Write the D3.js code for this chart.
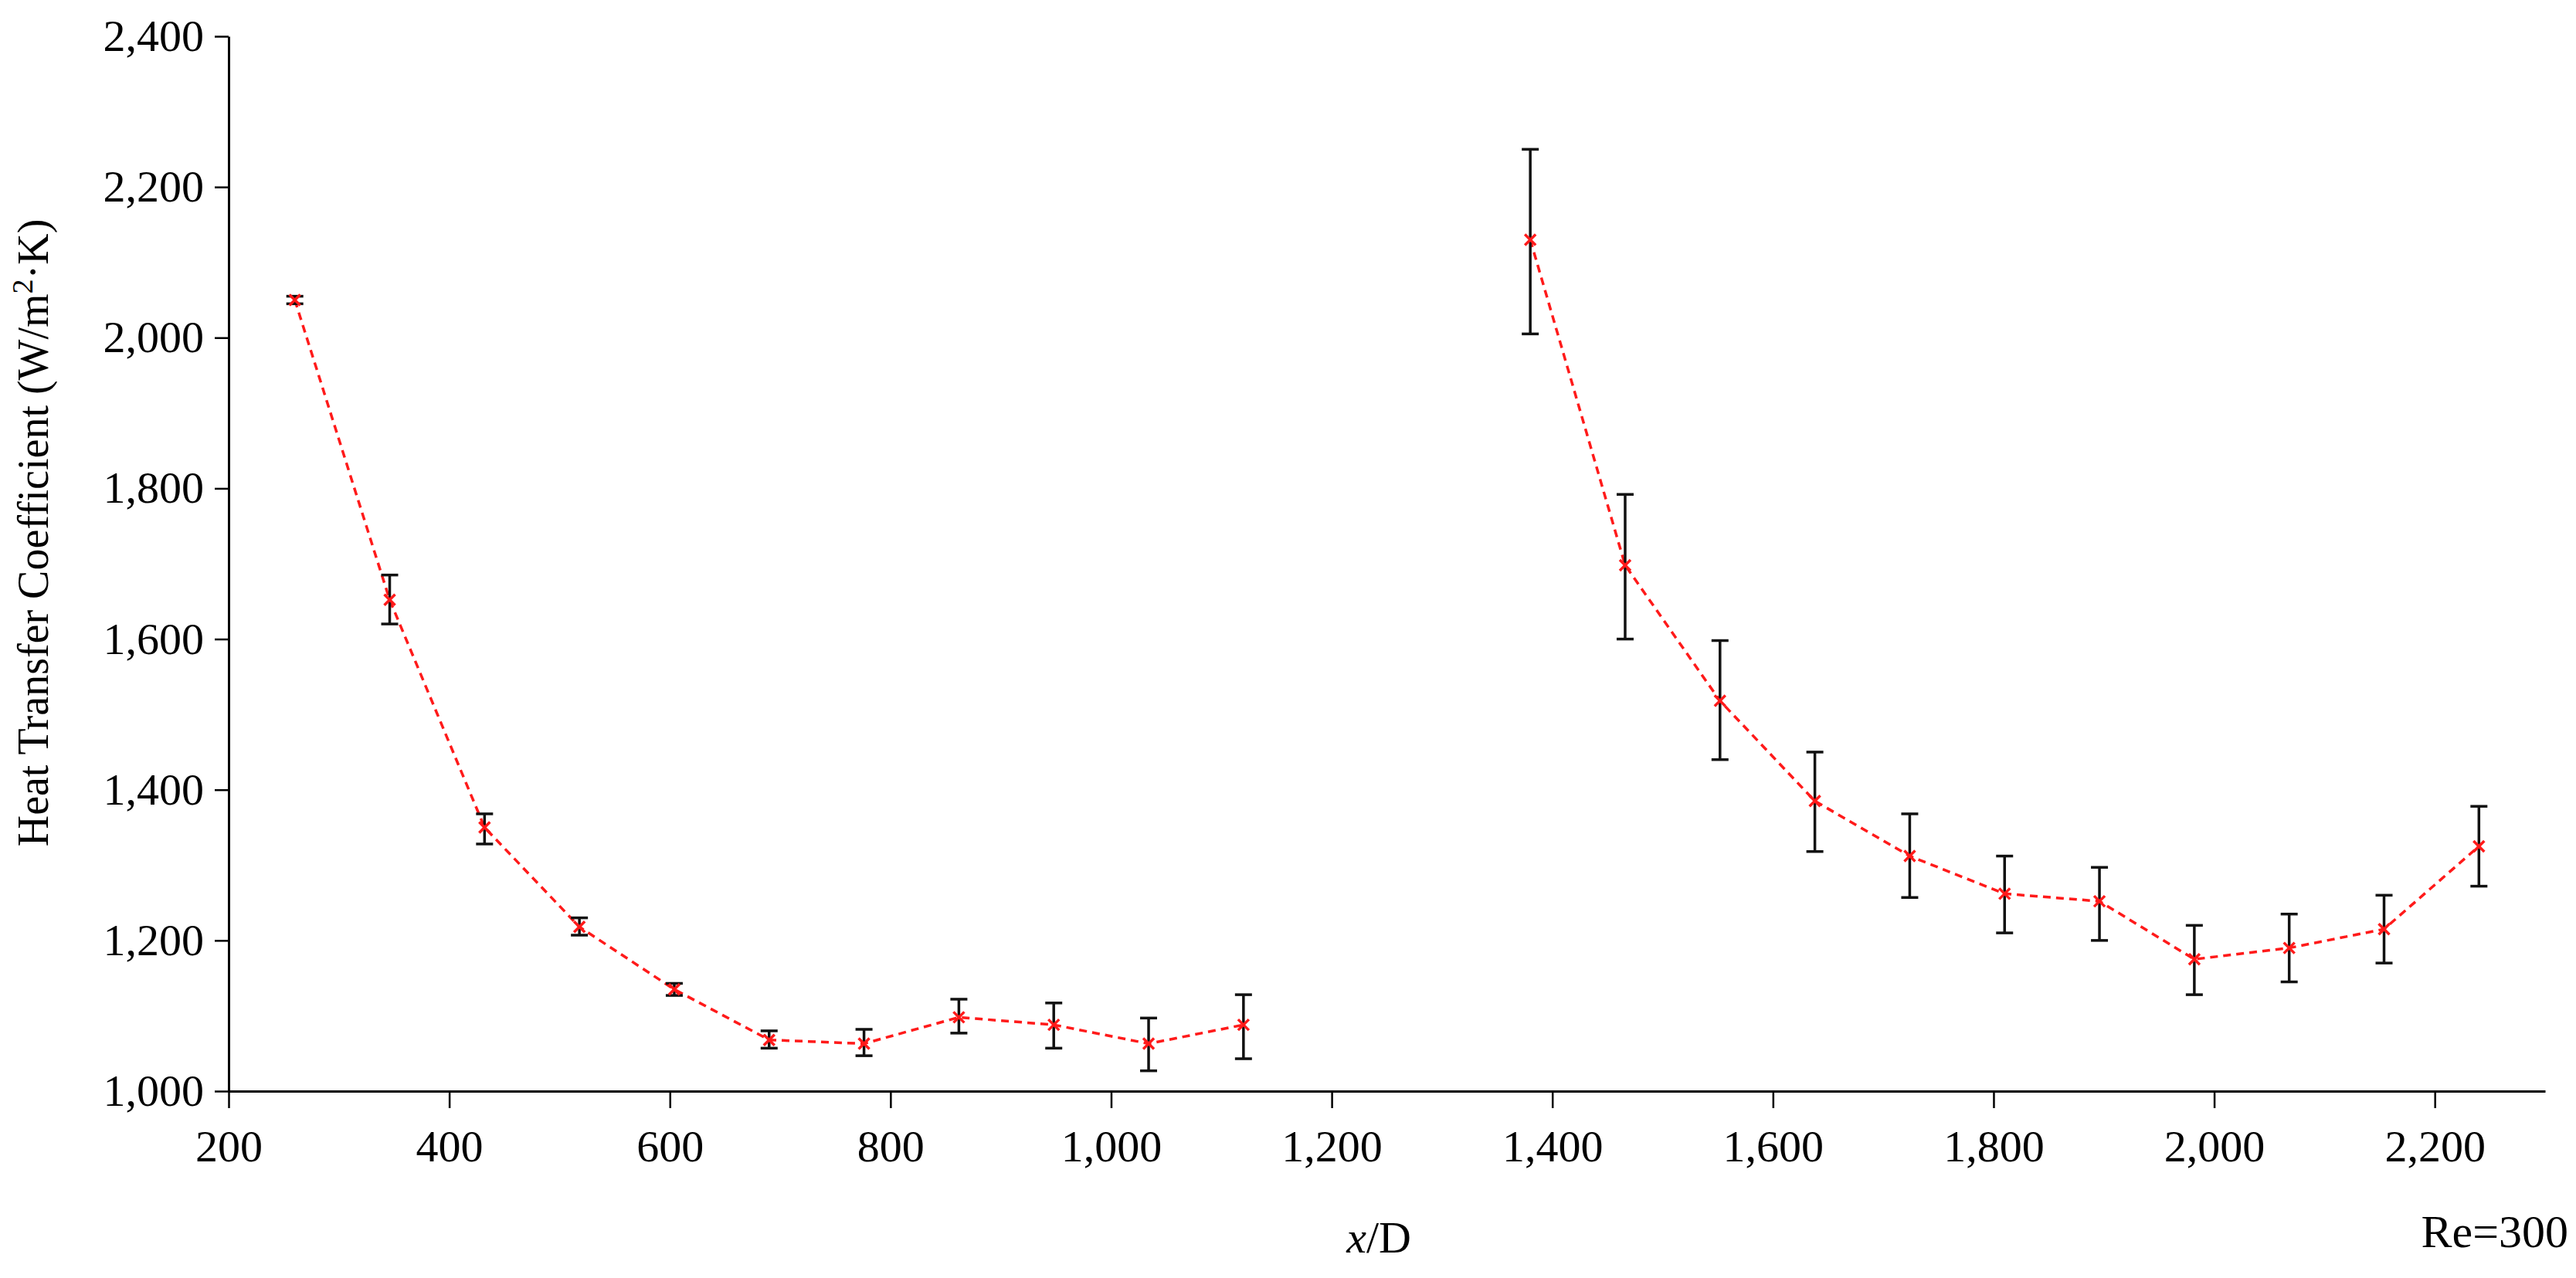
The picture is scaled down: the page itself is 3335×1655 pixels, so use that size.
<!DOCTYPE html>
<html><head><meta charset="utf-8">
<script src="https://cdn.jsdelivr.net/npm/d3@7"></script>
<style>body{margin:0;background:#fff}text{font-family:"Liberation Serif","DejaVu Serif",serif}</style>
</head><body><svg id="chart" width="3335" height="1655"></svg>
<script>
// x/D positions, values and error ranges
const xLeft = [260, 346, 432, 518, 604, 690, 776, 862, 948, 1034, 1120]
const hLeft = [2050, 1652, 1350, 1218, 1135, 1068, 1063, 1098, 1088, 1063, 1088]
const loLeft = [2045, 1620, 1328, 1207, 1127, 1057, 1047, 1077, 1057, 1027, 1043]
const hiLeft = [2055, 1685, 1368, 1230, 1143, 1080, 1082, 1122, 1117, 1097, 1128]
const xRight = [1380, 1466, 1552, 1638, 1724, 1810, 1896, 1982, 2068, 2154, 2240]
const hRight = [2130, 1698, 1518, 1385, 1312, 1262, 1252, 1175, 1190, 1215, 1325]
const loRight = [2005, 1600, 1440, 1318, 1257, 1210, 1200, 1128, 1145, 1170, 1272]
const hiRight = [2250, 1792, 1598, 1450, 1368, 1312, 1297, 1220, 1235, 1260, 1378]
const xTicks = [200, 400, 600, 800, 1000, 1200, 1400, 1600, 1800, 2000, 2200]
const yTicks = [1000, 1200, 1400, 1600, 1800, 2000, 2200, 2400]

const svg = d3.select('#chart')
const x = d3.scaleLinear().domain([200, 2300]).range([296, 3295])
const y = d3.scaleLinear().domain([1000, 2400]).range([1413, 47])

const xAxis = svg.append('g').attr('transform', 'translate(0,1413)')
  .call(d3.axisBottom(x).tickValues(xTicks).tickSize(22).tickSizeOuter(0).tickPadding(28))
const yAxis = svg.append('g').attr('transform', 'translate(296,0)')
  .call(d3.axisLeft(y).tickValues(yTicks).tickSize(18).tickSizeOuter(0).tickPadding(14))
;[xAxis, yAxis].forEach(a => {
  a.selectAll('path').attr('stroke', '#000').attr('stroke-width', 3)
  a.selectAll('line').attr('stroke', '#000').attr('stroke-width', 2.5)
  a.selectAll('text').attr('font-size', 58).attr('fill', '#000')
})

function series(xs, hs, los, his){
  const pts = xs.map((d,i) => ({x:d, h:hs[i], lo:los[i], hi:his[i]}))
  const g = svg.append('g')
  g.append('path').datum(pts)
    .attr('d', d3.line().x(d=>x(d.x)).y(d=>y(d.h)))
    .attr('fill', 'none').attr('stroke', '#ff1a1a').attr('stroke-width', 3.5).attr('stroke-dasharray', '10,7')
  const eb = g.selectAll('.eb').data(pts).enter().append('g').attr('stroke', '#111').attr('stroke-width', 3.5)
  eb.append('line').attr('x1', d=>x(d.x)).attr('x2', d=>x(d.x)).attr('y1', d=>y(d.lo)).attr('y2', d=>y(d.hi))
  eb.append('line').attr('x1', d=>x(d.x)-11).attr('x2', d=>x(d.x)+11).attr('y1', d=>y(d.lo)).attr('y2', d=>y(d.lo))
  eb.append('line').attr('x1', d=>x(d.x)-11).attr('x2', d=>x(d.x)+11).attr('y1', d=>y(d.hi)).attr('y2', d=>y(d.hi))
  const mk = g.selectAll('.mk').data(pts).enter().append('g').attr('stroke', '#ff1a1a').attr('stroke-width', 3.5)
  mk.append('line').attr('x1', d=>x(d.x)-7).attr('x2', d=>x(d.x)+7).attr('y1', d=>y(d.h)-7).attr('y2', d=>y(d.h)+7)
  mk.append('line').attr('x1', d=>x(d.x)-7).attr('x2', d=>x(d.x)+7).attr('y1', d=>y(d.h)+7).attr('y2', d=>y(d.h)-7)
}
series(xLeft, hLeft, loLeft, hiLeft)
series(xRight, hRight, loRight, hiRight)

svg.append('text').attr('transform', 'translate(62,690) rotate(-90)').attr('text-anchor', 'middle')
  .attr('font-size', 56)
  .html('Heat Transfer Coefficient (W/m<tspan dy="-20" font-size="38">2</tspan><tspan dy="20">·K)</tspan>')
svg.append('text').attr('x', 1785).attr('y', 1622).attr('text-anchor', 'middle').attr('font-size', 58)
  .html('<tspan font-style="italic">x</tspan>/D')
svg.append('text').attr('x', 3325).attr('y', 1615).attr('text-anchor', 'end').attr('font-size', 60).text('Re=300')
</script></body></html>
